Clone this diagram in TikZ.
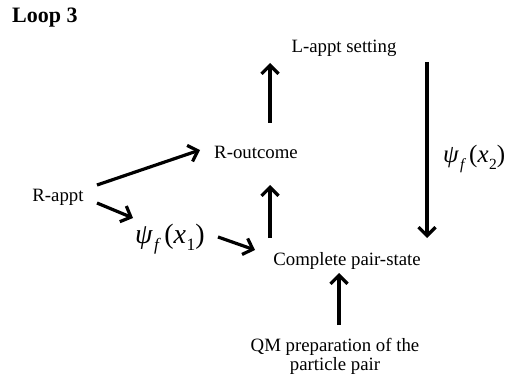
\documentclass[tikz,border=0pt]{standalone}
\usepackage{fontspec}
\usepackage{graphicx}
\setmainfont{Liberation Serif}
\usetikzlibrary{arrows.meta}

% wave function psi_f(x_n) set in text italics
\newcommand{\wavefn}[1]{\textit{ψ}\kern0.04em\raisebox{-0.28em}{\scalebox{0.62}{\textit{f}}}\kern0.12em(\textit{x}\kern0.02em\raisebox{-0.28em}{\scalebox{0.62}{#1}})}

\begin{document}
\begin{tikzpicture}[x=1pt,y=1pt,
  lbl/.style={inner sep=0pt, anchor=base, font=\fontsize{18.8}{19}\selectfont},
  psi/.style={inner sep=0pt, anchor=base west},
  arr/.style={line width=3.2pt, -{Straight Barb[length=8.5pt,width=17pt]}}]
  \useasboundingbox (0,0) rectangle (506,-377);

  % title
  \node[inner sep=0pt, anchor=base west, font=\fontsize{22}{24}\selectfont\bfseries] (title) at (12,-23) {Loop 3};

  % labels
  \node[lbl] (lset)  at (344,-53)  {L-appt setting};
  \node[lbl] (rout)  at (256,-159) {R-outcome};
  \node[lbl] (rappt) at (58,-201)  {R-appt};
  \node[lbl] (cps)   at (347,-265) {Complete pair-state};
  \node[lbl, align=center] (qm) at (335,-370) {QM preparation of the\\particle pair};

  \node[psi, font=\fontsize{28}{29}\selectfont] (psi1) at (135,-243) {\wavefn{1}};
  \node[psi, font=\fontsize{25}{26}\selectfont] (psi2) at (443,-163) {\wavefn{2}};

  % connectors
  \draw[arr] ([shift={(14,36)}]rout.base) -- ([shift={(-74,-10)}]lset.base);
  \draw[arr] ([shift={(39,16)}]rappt.base) -- ([shift={(-56,9)}]rout.base);
  \draw[arr] ([shift={(39,-2)}]rappt.base) -- ([shift={(-2,25)}]psi1.base west);
  \draw[arr] ([shift={(83,6)}]psi1.base west) -- ([shift={(-92,15)}]cps.base);
  \draw[arr] ([shift={(-77,27)}]cps.base) -- ([shift={(14,-26)}]rout.base);
  \draw[arr] ([shift={(83,-9)}]lset.base) -- ([shift={(80,27)}]cps.base);
  \draw[arr] ([shift={(4,45)}]qm.base) -- ([shift={(-8,-8)}]cps.base);
\end{tikzpicture}
\end{document}
